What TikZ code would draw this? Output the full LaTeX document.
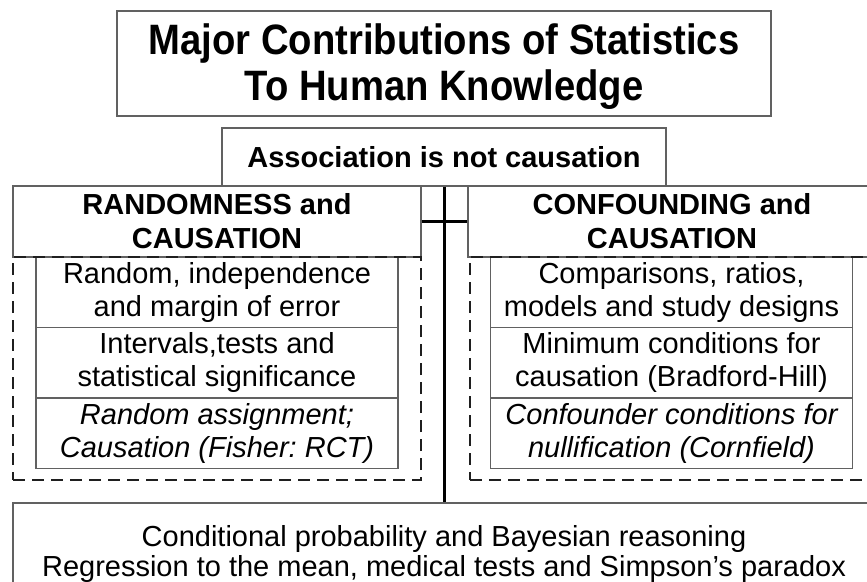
\documentclass[tikz,border=0pt]{standalone}
\usepackage{fontspec}
\setmainfont{Liberation Sans}
\newfontfamily\narrowsans[FakeStretch=0.9]{Liberation Sans}
\definecolor{boxgray}{gray}{0.38}
\definecolor{dashgray}{gray}{0.12}
\frenchspacing
\begin{document}
\begin{tikzpicture}[x=1pt,y=-1pt,
  box/.style={draw=boxgray, line width=1.3pt, rectangle, inner sep=0pt,
              align=center, text=black},
  titletext/.style={inner sep=0pt, align=center, text=black,
              font=\narrowsans\fontsize{42.5}{46}\selectfont\bfseries},
  headbox/.style={box, font=\fontsize{29}{34}\selectfont\bfseries},
  itembox/.style={box, minimum width=362pt, minimum height=70.5pt,
                  font=\fontsize{29}{33}\selectfont},
  dashbox/.style={draw=dashgray, line width=1.4pt, dash pattern=on 12pt off 7pt,
                  rectangle, inner sep=0pt, minimum width=408pt, minimum height=223pt},
  conn/.style={draw=black, line width=3pt}]
\useasboundingbox (0,0) rectangle (867,581);
\clip (0,0) rectangle (867,581);

% title and central statement
\node[box, minimum width=654pt, minimum height=105pt] (title) at (444,63.5) {};
\node[titletext] (titlelines) at (444,67)
  {Major Contributions of Statistics\\To Human Knowledge};
\node[headbox, minimum width=444pt, minimum height=58pt] (assoc) at (444,157)
  {Association is not causation};

% the two branches
\node[headbox, minimum width=408pt, minimum height=71pt] (rh) at (217,221.5)
  {RANDOMNESS and\\CAUSATION};
\node[headbox, minimum width=408pt, minimum height=71pt] (ch) at (672,221.5)
  {CONFOUNDING and\\CAUSATION};

% left column
\node[itembox] (r1) at (217,292.25) {Random, independence\\and margin of error};
\node[itembox] (r2) at (217,362.75) {Intervals,tests and\\statistical significance};
\node[itembox, font=\fontsize{29}{33}\selectfont\itshape] (r3) at (217,433.25)
  {Random assignment;\\Causation (Fisher: RCT)};

% right column
\node[itembox] (c1) at (671.5,292.25) {Comparisons, ratios,\\models and study designs};
\node[itembox] (c2) at (671.5,362.75) {Minimum conditions for\\causation (Bradford-Hill)};
\node[itembox, font=\fontsize{29}{33}\selectfont\itshape] (c3) at (671.5,433.25)
  {Confounder conditions for\\nullification (Cornfield)};

% dashed groups
\node[dashbox] (rdash) at (217,368.5) {};
\node[dashbox] (cdash) at (674,368.5) {};

% common base
\node[box, minimum width=862pt, minimum height=109pt] (base) at (444,557.5) {};
\node[inner sep=0pt, align=center, font=\fontsize{29}{29.5}\selectfont] (basetext)
  at (444,554)
  {Conditional probability and Bayesian reasoning\\Regression to the mean, medical tests and Simpson’s paradox};

% connectors
\draw[conn] (assoc.south) -- (base.north);
\draw[conn] (rh.east) -- (ch.west);
\end{tikzpicture}
\end{document}
